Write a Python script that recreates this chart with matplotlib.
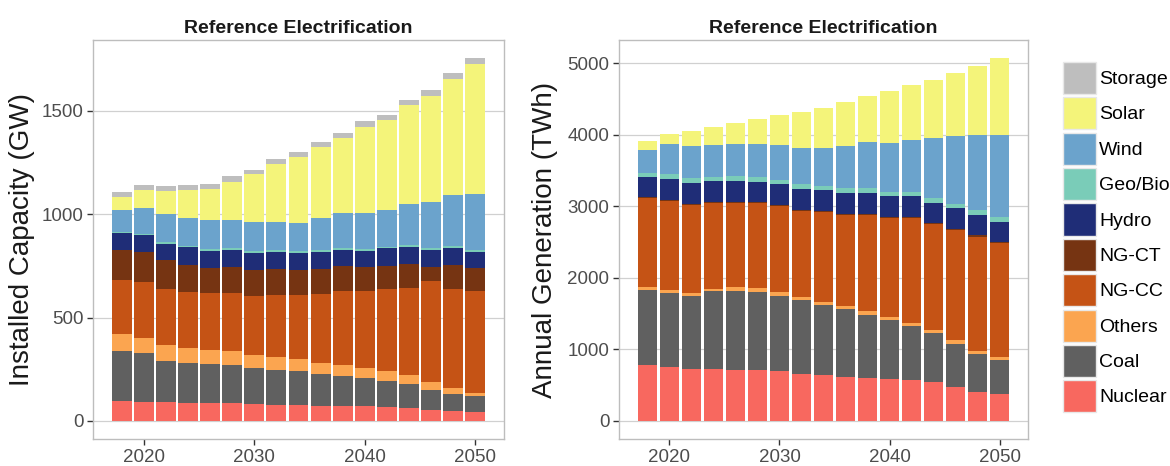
import numpy as np
import matplotlib
matplotlib.use("Agg")
import matplotlib.pyplot as plt
from matplotlib.patches import Patch

plt.rcParams["font.family"] = ["Liberation Sans", "DejaVu Sans"]

years = list(range(2018, 2051, 2))
techs = ["Nuclear", "Coal", "Others", "NG-CC", "NG-CT", "Hydro", "Geo/Bio", "Wind", "Solar", "Storage"]
colors = ["#F8685F", "#606060", "#FBA550", "#C55315", "#763412", "#1F2D77",
          "#7ACCB8", "#6BA3CC", "#F4F47A", "#BEBEBE"]

# installed capacity (GW)
cap_nuclear = [97, 92, 89, 86, 86, 86, 82, 79, 77, 74, 71, 71, 68, 64, 53, 48, 42]
cap_coal = [240, 236, 203, 193, 188, 185, 174, 169, 162, 155, 148, 135, 126, 114, 97, 81, 76]
cap_others = [82, 72, 76, 73, 68, 66, 65, 62, 60, 52, 52, 50, 45, 43, 40, 29, 17]
cap_ngcc = [263, 274, 272, 272, 276, 281, 284, 300, 311, 335, 357, 372, 398, 423, 487, 479, 491]
cap_ngct = [145, 142, 136, 132, 124, 127, 126, 125, 122, 119, 122, 117, 113, 114, 68, 118, 113]
cap_hydro = [81, 81, 82, 83, 82, 81, 80, 83, 82, 81, 79, 79, 84, 83, 81, 82, 80]
cap_geo = [8, 8, 8, 8, 8, 8, 10, 8, 8, 10, 8, 8, 8, 9, 8, 8, 10]
cap_wind = [102, 127, 134, 134, 139, 139, 139, 134, 136, 156, 171, 176, 177, 199, 227, 247, 268]
cap_solar = [67, 84, 113, 135, 153, 185, 232, 284, 321, 341, 361, 416, 439, 480, 512, 563, 629]
cap_storage = [23, 24, 24, 24, 24, 26, 24, 24, 23, 25, 25, 26, 24, 24, 29, 29, 29]

# annual generation (TWh)
gen_nuclear = [778, 750, 731, 722, 712, 712, 694, 656, 648, 614, 600, 592, 572, 540, 470, 410, 382]
gen_coal = [1047, 1037, 1014, 1089, 1103, 1089, 1051, 1029, 977, 950, 885, 818, 750, 689, 611, 531, 475]
gen_others = [41, 42, 38, 37, 56, 51, 61, 42, 42, 47, 47, 42, 46, 47, 46, 42, 42]
gen_ngcc = [1247, 1251, 1241, 1200, 1181, 1191, 1195, 1213, 1259, 1274, 1353, 1391, 1465, 1473, 1538, 1595, 1585]
gen_ngct = [15] * 17
gen_hydro = [283, 293, 293, 293, 293, 288, 293, 294, 284, 289, 289, 289, 293, 289, 293, 292, 289]
gen_geo = [61, 60, 60, 60, 60, 65, 65, 65, 65, 65, 65, 60, 56, 66, 62, 66, 69]
gen_wind = [316, 419, 447, 442, 457, 466, 479, 497, 521, 595, 646, 674, 731, 832, 949, 1042, 1141]
gen_solar = [121, 145, 209, 256, 283, 344, 428, 512, 568, 610, 637, 731, 768, 823, 884, 977, 1075]
gen_storage = [0] * 17

cap = [cap_nuclear, cap_coal, cap_others, cap_ngcc, cap_ngct, cap_hydro, cap_geo,
       cap_wind, cap_solar, cap_storage]
gen = [gen_nuclear, gen_coal, gen_others, gen_ngcc, gen_ngct, gen_hydro, gen_geo,
       gen_wind, gen_solar, gen_storage]

W, H = 1170, 466
fig = plt.figure(figsize=(W / 100, H / 100), dpi=100)
ax1 = fig.add_axes([93 / W, 27 / H, 411 / W, 399 / H])
ax2 = fig.add_axes([619 / W, 27 / H, 409 / W, 399 / H])

BW = 1.8


def stacked(ax, series, ylabel, yticks, labx):
    x = np.array(years)
    bottom = np.zeros(len(years))
    for vals, c in zip(series, colors):
        v = np.array(vals, dtype=float)
        ax.bar(x, v, width=BW, bottom=bottom, color=c, linewidth=0, zorder=2)
        bottom += v
    span = (x[-1] - x[0]) + BW
    ax.set_xlim(x[0] - BW / 2 - 0.05 * span, x[-1] + BW / 2 + 0.05 * span)
    top = bottom.max()
    ax.set_ylim(-0.05 * top, 1.05 * top)
    ax.set_yticks(yticks)
    ax.set_xticks([2020, 2030, 2040, 2050])
    ax.grid(axis="y", color="#D0D0D0", lw=0.9, zorder=0)
    for s in ax.spines.values():
        s.set_color("#BDBDBD")
        s.set_linewidth(1.0)
    ax.tick_params(length=4, width=1, color="#333333", labelcolor="#4D4D4D",
                   labelsize=13.5, pad=3)
    ax.set_ylabel(ylabel, fontsize=20, color="#1A1A1A")
    ax.yaxis.set_label_coords(labx, 0.5)
    ax.set_title("Reference Electrification", fontsize=14, fontweight="bold",
                 color="#1A1A1A", pad=5)


stacked(ax1, cap, "Installed Capacity (GW)", [0, 500, 1000, 1500], -0.14)
stacked(ax2, gen, "Annual Generation (TWh)", [0, 1000, 2000, 3000, 4000, 5000], -0.15)

handles = [Patch(facecolor=c, edgecolor="#E8E8E8", label=t) for t, c in zip(techs, colors)]
fig.legend(handles=handles[::-1], loc="upper left", bbox_to_anchor=(1063 / W, 1 - 62 / H),
           frameon=False, fontsize=14, handlelength=1.7, handleheight=2.16,
           labelspacing=0.17, handletextpad=0.15, borderpad=0, borderaxespad=0)

fig.savefig("out.png", dpi=100)
